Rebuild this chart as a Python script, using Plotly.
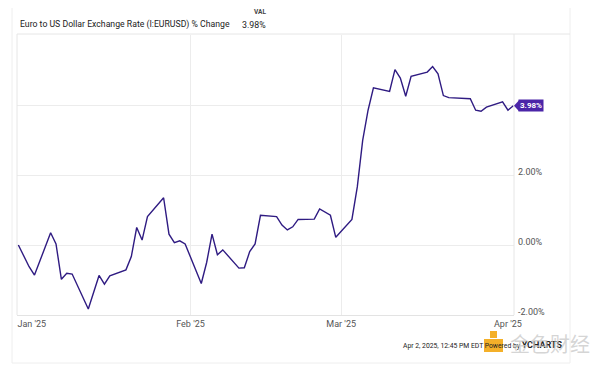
import plotly.graph_objects as go

# ---- data ----
dates = [
    "2024-12-31", "2025-01-02", "2025-01-03", "2025-01-06", "2025-01-07", "2025-01-08",
    "2025-01-09", "2025-01-10", "2025-01-13", "2025-01-15", "2025-01-16", "2025-01-17",
    "2025-01-20", "2025-01-21", "2025-01-22", "2025-01-23", "2025-01-24", "2025-01-27",
    "2025-01-28", "2025-01-29", "2025-01-30", "2025-01-31", "2025-02-03", "2025-02-04",
    "2025-02-05", "2025-02-06", "2025-02-07", "2025-02-10", "2025-02-11", "2025-02-12",
    "2025-02-13", "2025-02-14", "2025-02-17", "2025-02-18", "2025-02-19", "2025-02-20",
    "2025-02-21", "2025-02-24", "2025-02-25", "2025-02-27", "2025-02-28", "2025-03-03",
    "2025-03-04", "2025-03-05", "2025-03-06", "2025-03-07", "2025-03-10", "2025-03-11",
    "2025-03-12", "2025-03-13", "2025-03-14", "2025-03-17", "2025-03-18", "2025-03-19",
    "2025-03-20", "2025-03-21", "2025-03-25", "2025-03-26", "2025-03-27", "2025-03-28",
    "2025-03-31", "2025-04-01", "2025-04-02",
]
pct_change = [
    0.00, -0.62, -0.86, 0.35, 0.03, -0.98,
    -0.81, -0.83, -1.83, -0.87, -1.12, -0.88,
    -0.71, -0.33, 0.50, 0.14, 0.81, 1.35,
    0.31, 0.07, 0.12, 0.03, -1.10, -0.50,
    0.31, -0.28, -0.14, -0.66, -0.65, -0.19,
    0.03, 0.85, 0.81, 0.57, 0.43, 0.52,
    0.73, 0.74, 1.03, 0.85, 0.22, 0.73,
    1.66, 2.99, 3.85, 4.49, 4.39, 5.01,
    4.77, 4.25, 4.82, 4.94, 5.10, 4.89,
    4.27, 4.21, 4.18, 3.85, 3.82, 3.94,
    4.09, 3.85, 3.98,
]
x_tick_vals = ["2025-01-02 12:00", "2025-02-01", "2025-03-01", "2025-04-01"]
x_tick_text = ["Jan '25", "Feb '25", "Mar '25", "Apr '25"]
x_grid_vals = ["2025-02-01", "2025-03-01"]
y_tick_vals = [-2, 0, 2, 4]
y_tick_text = ["-2.00%", "0.00%", "2.00%", ""]   # 4.00% sits behind the last-value badge
title_text = "Euro to US Dollar Exchange Rate (I:EURUSD) % Change"
last_value_text = "3.98%"
footer_text = ("Apr 2, 2025, 12:45 PM EDT Powered by "
               "<span style='font-size:9px'><b>YCHARTS</b></span>")
watermark_text = "金色财经"

# page body has an 8px margin, so the figure is laid out 8px up/left
OFF = 8
W, H = 600 - OFF, 366 - OFF
L, R, T, B = 17, 514, 35, 315          # target plot area in page pixels
LINE = "#2f1b82"
BADGE = "#4b25a8"
GRID = "#ececec"
FONT = "Roboto"


def px(x):
    return (x - L) / (R - L)


def py(y):
    return (B - y) / (B - T)


fig = go.Figure()
fig.add_trace(go.Scatter(
    x=dates, y=pct_change, mode="lines",
    line=dict(color=LINE, width=1.4), hoverinfo="skip", showlegend=False,
))

shapes = []
shapes.append(dict(type="rect", xref="paper", yref="paper", x0=px(12), x1=px(570),
                   y0=py(363), y1=py(-2), line=dict(color="#eeeeee", width=1), layer="below"))
shapes.append(dict(type="line", xref="paper", yref="paper", x0=px(17), x1=px(570),
                   y0=py(34), y1=py(34), line=dict(color="#e6e6e6", width=1)))
shapes.append(dict(type="line", xref="paper", yref="paper", x0=0, x1=0, y0=0, y1=py(34),
                   line=dict(color="#e6e6e6", width=1)))
shapes.append(dict(type="line", xref="paper", yref="paper", x0=1, x1=1, y0=0, y1=py(34),
                   line=dict(color="#e6e6e6", width=1)))
shapes.append(dict(type="path", xref="paper", yref="y", xsizemode="pixel", ysizemode="pixel",
                   xanchor=1, yanchor=pct_change[-1],
                   path="M 0,0 L 5,5.5 L 5,-5.5 Z", fillcolor=BADGE, line=dict(width=0)))
shapes.append(dict(type="rect", xref="paper", yref="paper", x0=px(484), x1=px(503),
                   y0=py(352), y1=py(339), fillcolor="#f3a712", line=dict(width=0), opacity=0.9))
shapes.append(dict(type="rect", xref="paper", yref="paper", x0=px(490), x1=px(497),
                   y0=py(338), y1=py(331), fillcolor="#f3a712", line=dict(width=0), opacity=0.9))

annotations = [
    dict(xref="paper", yref="paper", x=px(18), y=py(25), xanchor="left", yanchor="middle",
         text=title_text, showarrow=False, font=dict(family=FONT, size=8.7, color="#222222")),
    dict(xref="paper", yref="paper", x=px(268), y=py(12), xanchor="right", yanchor="middle",
         text="<b>VAL</b>", showarrow=False, font=dict(family=FONT, size=6.5, color="#444444")),
    dict(xref="paper", yref="paper", x=px(268), y=py(25), xanchor="right", yanchor="middle",
         text=last_value_text, showarrow=False, font=dict(family=FONT, size=8.8, color="#222222")),
    dict(xref="paper", yref="y", x=1, y=pct_change[-1], xanchor="left", yanchor="middle",
         xshift=4, text="<b>" + last_value_text + "</b>", showarrow=False,
         bgcolor=BADGE, borderpad=1, font=dict(family=FONT, size=8, color="#ffffff")),
    dict(xref="paper", yref="paper", x=px(401), y=py(345), xanchor="left", yanchor="middle",
         text=footer_text, showarrow=False, font=dict(family=FONT, size=6.8, color="#222222")),
    dict(xref="paper", yref="paper", x=px(508), y=py(343), xanchor="left", yanchor="middle",
         text=watermark_text, showarrow=False,
         font=dict(family="Noto Sans CJK SC", size=20, color="rgba(200,200,200,0.75)")),
]

fig.update_layout(
    width=W, height=H,
    margin=dict(l=L - OFF, r=W - (R - OFF), t=T - OFF, b=H - (B - OFF), autoexpand=False),
    paper_bgcolor="white", plot_bgcolor="white",
    shapes=shapes, annotations=annotations,
    xaxis=dict(
        type="date", range=["2024-12-30 18:00", "2025-04-02 03:00"],
        tickvals=x_tick_vals, ticktext=x_tick_text, showgrid=False,
        minor=dict(tickvals=x_grid_vals, showgrid=True, gridcolor=GRID, gridwidth=1, ticks=""),
        showline=True, linecolor="#e3e3e3", linewidth=1, ticks="",
        tickfont=dict(family=FONT, size=9, color="#555555"), zeroline=False,
    ),
    yaxis=dict(
        side="right", range=[-2, 6], tickvals=y_tick_vals, ticktext=y_tick_text,
        showgrid=True, gridcolor=GRID, gridwidth=1, zeroline=False, ticks="",
        tickfont=dict(family=FONT, size=9, color="#555555"), ticklabelshift=-3,
        ticklabelstandoff=3, showline=False,
    ),
)

fig.write_html("out.html")
